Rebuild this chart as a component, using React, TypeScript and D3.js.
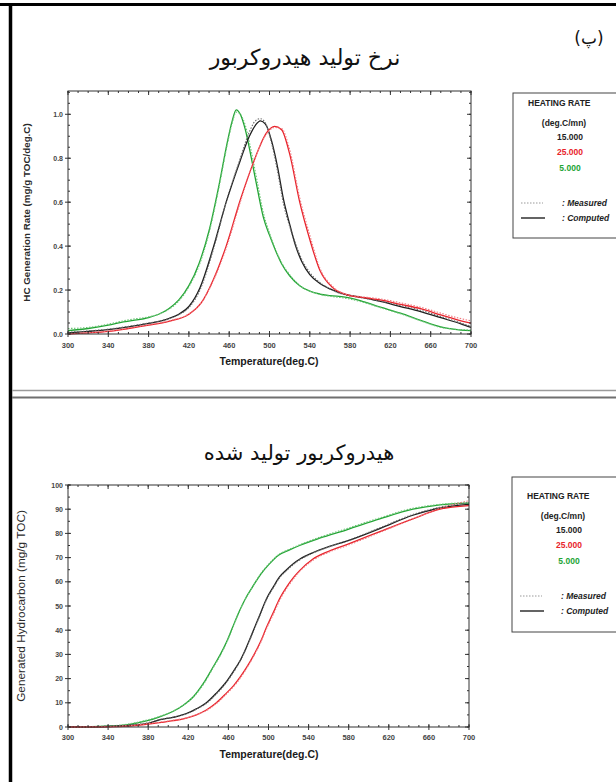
import React from "react";
import * as d3 from "d3";

// ---------- DATA ----------
const xTickLabels = [300, 340, 380, 420, 460, 500, 540, 580, 620, 660, 700];
const rateTickLabels = [0.0, 0.2, 0.4, 0.6, 0.8, 1.0];
const cumTickLabels = [0, 10, 20, 30, 40, 50, 60, 70, 80, 90, 100];

const heatingRates = ["15.000", "25.000", "5.000"];

// HC generation rate (top chart)
const rateGreenT = [300, 320, 340, 355, 365, 380, 390, 400, 410, 420, 430, 440, 450, 458, 463, 467, 471, 476, 482, 488, 494, 500, 506, 512, 520, 530, 540, 550, 560, 575, 590, 610, 630, 650, 670, 690, 700];
const rateGreenComputed = [0.015, 0.025, 0.04, 0.055, 0.062, 0.075, 0.09, 0.115, 0.155, 0.22, 0.32, 0.47, 0.68, 0.87, 0.97, 1.02, 1.0, 0.93, 0.8, 0.66, 0.53, 0.45, 0.38, 0.32, 0.265, 0.22, 0.195, 0.182, 0.175, 0.168, 0.152, 0.122, 0.095, 0.062, 0.032, 0.018, 0.015];
const rateGreenMeasured = [0.025, 0.03, 0.045, 0.06, 0.068, 0.078, 0.09, 0.112, 0.15, 0.215, 0.31, 0.46, 0.67, 0.86, 0.96, 1.01, 1.0, 0.95, 0.83, 0.69, 0.55, 0.46, 0.385, 0.325, 0.27, 0.22, 0.195, 0.18, 0.172, 0.163, 0.148, 0.12, 0.092, 0.06, 0.03, 0.02, 0.018];

const rateBlackT = [300, 320, 340, 360, 380, 400, 410, 420, 431, 444, 457, 471, 480, 486, 491, 496, 502, 508, 514, 520, 526, 532, 540, 550, 560, 575, 590, 610, 630, 650, 670, 690, 700];
const rateBlackComputed = [0.005, 0.012, 0.02, 0.032, 0.048, 0.07, 0.09, 0.125, 0.21, 0.39, 0.6, 0.79, 0.9, 0.95, 0.97, 0.955, 0.88, 0.76, 0.61, 0.5, 0.4, 0.33, 0.27, 0.23, 0.205, 0.18, 0.168, 0.148, 0.125, 0.102, 0.074, 0.046, 0.03];
const rateBlackMeasured = [0.008, 0.014, 0.022, 0.035, 0.05, 0.07, 0.088, 0.12, 0.2, 0.38, 0.6, 0.8, 0.92, 0.97, 0.98, 0.96, 0.87, 0.74, 0.59, 0.49, 0.41, 0.34, 0.28, 0.235, 0.205, 0.178, 0.166, 0.15, 0.13, 0.108, 0.08, 0.05, 0.035];

const rateRedT = [300, 320, 340, 360, 380, 400, 420, 432, 444, 457, 471, 484, 497, 505, 512, 520, 530, 540, 550, 563, 577, 595, 610, 630, 650, 670, 690, 700];
const rateRedComputed = [0.0, 0.005, 0.012, 0.025, 0.04, 0.058, 0.09, 0.14, 0.245, 0.4, 0.61, 0.78, 0.915, 0.945, 0.93, 0.82, 0.6, 0.43, 0.29, 0.21, 0.178, 0.165, 0.155, 0.135, 0.115, 0.087, 0.06, 0.05];
const rateRedMeasured = [0.0, 0.006, 0.014, 0.027, 0.042, 0.06, 0.092, 0.14, 0.24, 0.39, 0.6, 0.78, 0.91, 0.94, 0.935, 0.84, 0.62, 0.45, 0.3, 0.215, 0.18, 0.168, 0.16, 0.142, 0.122, 0.095, 0.07, 0.06];

// Generated hydrocarbon (bottom chart)
const cumGreenT = [300, 340, 360, 378, 390, 405, 415, 425, 435, 445, 452, 458, 464, 470, 478, 485, 492, 500, 510, 520, 531, 551, 578, 611, 644, 671, 700];
const cumGreenComputed = [0, 0.3, 1, 2.5, 4, 6.5, 9, 12.5, 18, 25, 30, 35, 41, 47, 53.8, 58.5, 63, 67, 71, 73, 75, 78, 81.5, 86, 90, 91.8, 92.5];
const cumGreenMeasured = [0, 0.4, 1.2, 2.8, 4.2, 6.6, 9, 12.3, 17.6, 24.6, 29.6, 34.6, 40.6, 46.8, 53.6, 58.6, 63.2, 67.2, 71.2, 73.3, 75.3, 78.4, 82, 86.4, 90.4, 92, 92.8];

const cumBlackT = [300, 340, 360, 380, 392, 405, 418, 428, 438, 448, 458, 465, 472, 478, 485, 492, 498, 505, 511, 518, 525, 531, 544, 560, 578, 611, 644, 671, 700];
const cumBlackComputed = [0, 0.2, 0.6, 1.5, 3, 4, 5.5, 7.5, 10, 14, 18.7, 23, 27.7, 33, 40, 47, 53, 58, 62, 65, 67.6, 69.3, 72, 74.5, 76.8, 82, 87.5, 90.5, 92];
const cumBlackMeasured = [0, 0.3, 0.8, 1.8, 3.2, 4.1, 5.4, 7.3, 9.7, 13.6, 18.4, 22.6, 27.4, 32.7, 39.6, 46.6, 52.6, 57.7, 61.6, 64.6, 67.2, 69, 71.8, 74.4, 76.9, 82.3, 87.8, 90.8, 92.6];

const cumRedT = [300, 340, 360, 380, 400, 418, 428, 438, 448, 458, 465, 472, 478, 485, 492, 498, 505, 511, 518, 525, 531, 544, 560, 578, 611, 644, 671, 700];
const cumRedComputed = [0, 0.1, 0.4, 1.2, 2.3, 3.7, 5, 7, 10, 14, 17, 20.8, 24.5, 29.5, 35.2, 41.2, 47.5, 53, 57.8, 61.8, 64.6, 69.3, 72.6, 75.4, 80.7, 86, 90, 91.5];
const cumRedMeasured = [0, 0.2, 0.5, 1.4, 2.5, 3.8, 5, 6.8, 9.7, 13.6, 16.6, 20.3, 24.1, 29.1, 34.7, 40.6, 46.7, 52.2, 57.2, 61.2, 64.2, 68.8, 72.2, 74.9, 80.4, 86, 90.4, 93.5];

// ---------- STYLE ----------
const W = 616;
const H = 782;
const COLORS = { black: "#1e1e1e", red: "#e8232b", green: "#22a434" };
const MEAS = { black: "#6a6a6a", red: "#f07a80", green: "#6cc476" };
const TICKFONT = "'Liberation Sans', Arial, sans-serif";

type Series = { t: number[]; c: number[]; m: number[]; color: keyof typeof COLORS };

function Panel(props: {
  x0: number; x1: number; yTop: number; yBottom: number;
  yDomain: [number, number];
  yMajor: number[]; yMinorStep: number; yFormat: (v: number) => string;
  series: Series[];
  yLabel: string; yLabelX: number; yLabelBold: boolean; yLabelSize: number;
  xTitleDy: number; xLabelDy: number;
}) {
  const { x0, x1, yTop, yBottom, yDomain, yMajor, yMinorStep, yFormat, series } = props;
  const x = d3.scaleLinear().domain([300, 700]).range([x0, x1]);
  const y = d3.scaleLinear().domain(yDomain).range([yBottom, yTop]);
  const xMinor = d3.range(300, 700.01, 10);
  const yMinor = d3.range(yDomain[0], yDomain[1] + 1e-6, yMinorStep);
  const line = d3
    .line<[number, number]>()
    .x((d) => x(d[0]))
    .y((d) => y(d[1]))
    .curve(d3.curveMonotoneX);
  const axisColor = "#333";
  return (
    <g>
      {series.map((s, i) => (
        <g key={i}>
          <path
            d={line(s.t.map((t, k) => [t, s.c[k]] as [number, number])) || ""}
            fill="none"
            stroke={COLORS[s.color]}
            strokeWidth={1.3}
          />
          <path
            d={line(s.t.map((t, k) => [t, s.m[k]] as [number, number])) || ""}
            fill="none"
            stroke={MEAS[s.color]}
            strokeWidth={1.1}
            strokeDasharray="1.5,1.5"
          />
        </g>
      ))}
      <rect x={x0} y={yTop} width={x1 - x0} height={yBottom - yTop} fill="none" stroke={axisColor} strokeWidth={1} />
      {xMinor.map((t, i) => (
        <g key={"xm" + i}>
          <line x1={x(t)} x2={x(t)} y1={yBottom} y2={yBottom - 2} stroke={axisColor} />
          <line x1={x(t)} x2={x(t)} y1={yTop} y2={yTop + 2} stroke={axisColor} />
        </g>
      ))}
      {xTickLabels.map((t, i) => (
        <g key={"xM" + i}>
          <line x1={x(t)} x2={x(t)} y1={yBottom - 3} y2={yBottom + 3} stroke={axisColor} />
          <line x1={x(t)} x2={x(t)} y1={yTop} y2={yTop + 4} stroke={axisColor} />
          <text x={x(t)} y={yBottom + props.xLabelDy} textAnchor="middle" fontSize={7.5} fontWeight="bold" fill="#454545" fontFamily={TICKFONT}>
            {t}
          </text>
        </g>
      ))}
      {yMinor.map((v, i) => (
        <g key={"ym" + i}>
          <line x1={x0} x2={x0 + 2} y1={y(v)} y2={y(v)} stroke={axisColor} />
          <line x1={x1} x2={x1 - 2} y1={y(v)} y2={y(v)} stroke={axisColor} />
        </g>
      ))}
      {yMajor.map((v, i) => (
        <g key={"yM" + i}>
          <line x1={x0 - 3} x2={x0 + 3} y1={y(v)} y2={y(v)} stroke={axisColor} />
          <line x1={x1} x2={x1 - 4} y1={y(v)} y2={y(v)} stroke={axisColor} />
          <text x={x0 - 5} y={y(v) + 2.5} textAnchor="end" fontSize={7} fontWeight="bold" fill="#454545" fontFamily={TICKFONT}>
            {yFormat(v)}
          </text>
        </g>
      ))}
      <text
        x={269}
        y={yBottom + props.xTitleDy}
        textAnchor="middle"
        fontSize={10.5}
        fontWeight="bold"
        fill="#1a1a1a"
        fontFamily={TICKFONT}
      >
        Temperature(deg.C)
      </text>
      <text
        transform={`translate(${props.yLabelX},${(yTop + yBottom) / 2}) rotate(-90)`}
        textAnchor="middle"
        fontSize={props.yLabelSize}
        fontWeight={props.yLabelBold ? "bold" : "normal"}
        fill="#2a2a2a"
        fontFamily={TICKFONT}
      >
        {props.yLabel}
      </text>
    </g>
  );
}

function Legend(props: { x: number; y: number; h: number; dy: number }) {
  const { x, y, h, dy } = props;
  const f = TICKFONT;
  const rateColors = [COLORS.black, COLORS.red, COLORS.green];
  const rowY = [0, 15, 31];
  return (
    <g>
      <rect x={x} y={y} width={W - x + 4} height={h} fill="#fff" stroke="#444" strokeWidth={1} />
      <text x={x + 15} y={y + dy + 13} fontSize={8.5} fontWeight="bold" fill="#222" fontFamily={f}>HEATING RATE</text>
      <text x={x + 51} y={y + dy + 33} textAnchor="middle" fontSize={8.5} fontWeight="bold" fill="#222" fontFamily={f}>(deg.C/mn)</text>
      {heatingRates.map((r, i) => (
        <text key={r} x={x + 57} y={y + dy + 47 + rowY[i]} textAnchor="middle" fontSize={8.5} fontWeight="bold" fill={rateColors[i]} fontFamily={f}>
          {r}
        </text>
      ))}
      <line x1={x + 8} x2={x + 30} y1={y + dy + 110} y2={y + dy + 110} stroke="#999" strokeDasharray="1.5,1.5" />
      <line x1={x + 8} x2={x + 32} y1={y + dy + 125} y2={y + dy + 125} stroke="#222" strokeWidth={1.4} />
      <text x={x + 49} y={y + dy + 113} fontSize={8.5} fontWeight="bold" fontStyle="italic" fill="#222" fontFamily={f}>: Measured</text>
      <text x={x + 49} y={y + dy + 128} fontSize={8.5} fontWeight="bold" fontStyle="italic" fill="#222" fontFamily={f}>: Computed</text>
    </g>
  );
}

export default function App() {
  const topSeries: Series[] = [
    { t: rateGreenT, c: rateGreenComputed, m: rateGreenMeasured, color: "green" },
    { t: rateBlackT, c: rateBlackComputed, m: rateBlackMeasured, color: "black" },
    { t: rateRedT, c: rateRedComputed, m: rateRedMeasured, color: "red" },
  ];
  const bottomSeries: Series[] = [
    { t: cumGreenT, c: cumGreenComputed, m: cumGreenMeasured, color: "green" },
    { t: cumBlackT, c: cumBlackComputed, m: cumBlackMeasured, color: "black" },
    { t: cumRedT, c: cumRedComputed, m: cumRedMeasured, color: "red" },
  ];
  const persian = "'DejaVu Sans', 'Noto Sans', sans-serif";
  return (
    <svg width={W} height={H} style={{ position: "absolute", left: 0, top: 0, background: "#fff" }}>
      <rect x={0} y={0} width={W} height={H} fill="#fff" />
      <line x1={0} x2={W} y1={4.5} y2={4.5} stroke="#000" strokeWidth={3} />
      <line x1={10.5} x2={10.5} y1={3} y2={H} stroke="#000" strokeWidth={3.5} />
      <line x1={12} x2={W} y1={390.5} y2={390.5} stroke="#9a9a9a" strokeWidth={1.5} />
      <line x1={12} x2={W} y1={397.5} y2={397.5} stroke="#6f6f6f" strokeWidth={2} />

      <text x={305} y={65} textAnchor="middle" fontSize={22} fill="#111" fontFamily={persian} direction="rtl">
        نرخ تولید هیدروکربور
      </text>
      <text x={589} y={44} textAnchor="middle" fontSize={17} fill="#111" fontFamily={persian} direction="rtl">
        (پ)
      </text>
      <text x={299} y={460} textAnchor="middle" fontSize={21} fill="#111" fontFamily={persian} direction="rtl">
        هیدروکربور تولید شده
      </text>

      <Panel
        x0={68} x1={471} yTop={91} yBottom={334}
        yDomain={[0, 1.106]}
        yMajor={rateTickLabels} yMinorStep={0.05}
        yFormat={(v) => v.toFixed(1)}
        series={topSeries}
        yLabel="HC Generation Rate (mg/g TOC/deg.C)" yLabelX={30} yLabelBold={true} yLabelSize={9.8}
        xTitleDy={31} xLabelDy={14}
      />
      <Legend x={513} y={93} h={145} dy={0} />

      <Panel
        x0={68} x1={469} yTop={485} yBottom={727}
        yDomain={[0, 100]}
        yMajor={cumTickLabels} yMinorStep={5}
        yFormat={(v) => String(v)}
        series={bottomSeries}
        yLabel="Generated Hydrocarbon (mg/g TOC)" yLabelX={25} yLabelBold={false} yLabelSize={11.8}
        xTitleDy={31} xLabelDy={13}
      />
      <Legend x={512} y={477} h={155} dy={9} />
    </svg>
  );
}
